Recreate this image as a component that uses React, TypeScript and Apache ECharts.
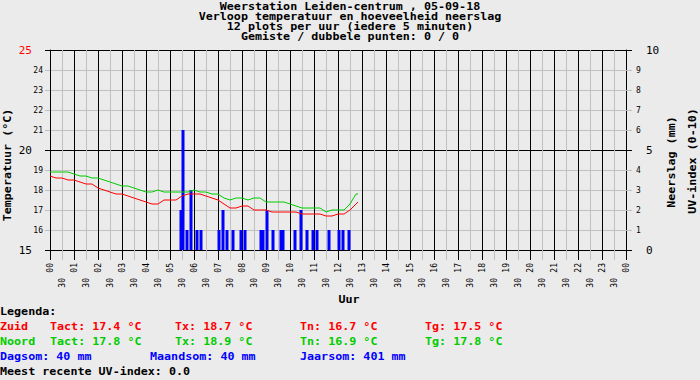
import React, { useEffect, useRef } from "react";
import * as echarts from "echarts";

const titleLines = [
  "Weerstation Leiden-centrum , 05-09-18",
  "Verloop temperatuur en hoeveelheid neerslag",
  "12 plots per uur (iedere 5 minuten)",
  "Gemiste / dubbele punten: 0 / 0",
];

const tempTimes = [
  "00:00", "00:15", "00:30", "00:45", "01:00", "01:15", "01:30", "01:45",
  "02:00", "02:15", "02:30", "02:45", "03:00", "03:15", "03:30", "03:45",
  "04:00", "04:15", "04:30", "04:45", "05:00", "05:15", "05:30", "05:45",
  "06:00", "06:15", "06:30", "06:45", "07:00", "07:15", "07:30", "07:45",
  "08:00", "08:15", "08:30", "08:45", "09:00", "09:15", "09:30", "09:45",
  "10:00", "10:15", "10:30", "10:45", "11:00", "11:15", "11:30", "11:45",
  "12:00", "12:15", "12:30", "12:45", "12:50",
];

const zuidTemps = [
  18.7, 18.6, 18.6, 18.5, 18.5, 18.4, 18.3, 18.3,
  18.1, 18.0, 17.9, 17.8, 17.8, 17.7, 17.6, 17.5,
  17.4, 17.3, 17.3, 17.5, 17.5, 17.5, 17.7, 17.8,
  17.8, 17.8, 17.7, 17.6, 17.5, 17.3, 17.1, 17.1,
  17.2, 17.2, 17.0, 17.0, 17.0, 16.9, 16.9, 16.9,
  16.9, 16.9, 16.8, 16.8, 16.8, 16.8, 16.7, 16.7,
  16.8, 16.8, 17.0, 17.3, 17.4,
];

const noordTemps = [
  18.9, 18.9, 18.9, 18.9, 18.8, 18.7, 18.7, 18.6,
  18.6, 18.5, 18.4, 18.3, 18.2, 18.2, 18.1, 18.0,
  17.9, 17.9, 18.0, 17.9, 17.9, 17.9, 17.9, 17.9,
  18.0, 17.9, 17.9, 17.8, 17.8, 17.6, 17.5, 17.6,
  17.6, 17.5, 17.6, 17.6, 17.4, 17.4, 17.4, 17.4,
  17.3, 17.2, 17.1, 17.1, 17.1, 17.1, 16.9, 17.0,
  17.0, 17.0, 17.3, 17.8, 17.8,
];

const rainTimes = [
  "05:25", "05:30", "05:40", "05:50", "06:05", "06:15",
  "07:00", "07:10", "07:20", "07:35", "07:55", "08:05",
  "08:45", "08:50", "09:00", "09:15", "09:35", "09:40",
  "10:10", "10:25", "10:40", "10:55", "11:05", "11:35",
  "12:00", "12:10", "12:25",
];
const rainValues = [
  2, 6, 1, 3, 1, 1,
  1, 2, 1, 1, 1, 1,
  1, 1, 2, 1, 1, 1,
  1, 2, 1, 1, 1, 1,
  1, 1, 1,
];

const hourLabels = [
  "00", "01", "02", "03", "04", "05", "06", "07", "08", "09", "10", "11",
  "12", "13", "14", "15", "16", "17", "18", "19", "20", "21", "22", "23", "00",
];

const legendRows = [
  { color: "#ff0000", cells: ["Zuid", "Tact: 17.4 °C", "Tx: 18.7 °C", "Tn: 16.7 °C", "Tg: 17.5 °C"] },
  { color: "#00cc00", cells: ["Noord", "Tact: 17.8 °C", "Tx: 18.9 °C", "Tn: 16.9 °C", "Tg: 17.8 °C"] },
];
const sumRow = ["Dagsom: 40 mm", "Maandsom: 40 mm", "Jaarsom: 401 mm"];
const legendTitle = "Legenda:";
const uvLine = "Meest recente UV-index: 0.0";

const MONO = "'DejaVu Sans Mono', monospace";
const RED = "#ff0000";
const GREEN = "#00cc00";
const BLUE = "#0000ff";
const GRAY = "#c0c0c0";
const BG = "#ebebeb";

const toHours = (s: string) => {
  const [h, m] = s.split(":").map(Number);
  return h + m / 60;
};

export default function App() {
  const ref = useRef<HTMLDivElement>(null);
  useEffect(() => {
    if (!ref.current) return;
    const chart = echarts.init(ref.current, null, { renderer: "svg" });

    const zuidData = tempTimes.map((t, i) => [toHours(t), zuidTemps[i]]);
    const noordData = tempTimes.map((t, i) => [toHours(t), noordTemps[i]]);
    const rainData = rainTimes.map((t, i) => [toHours(t) + 2.5 / 60, rainValues[i]]);

    const boldText = (x: number, y: number, text: string, color: string, align = "left", rotation = 0) => ({
      type: "text",
      x,
      y,
      rotation,
      scaleX: 1.17,
      scaleY: 1.05,
      silent: true,
      style: {
        text,
        fill: color,
        font: `bold 10px ${MONO}`,
        textAlign: align,
        textVerticalAlign: "middle",
      },
    });

    const graphics: any[] = [];
    titleLines.forEach((t, i) => graphics.push(boldText(350, 7 + i * 10, t, "#000", "center")));
    graphics.push(boldText(8, 165, "Temperatuur (°C)", "#000", "center", Math.PI / 2));
    graphics.push(boldText(672, 162, "Neerslag (mm)", "#000", "center", Math.PI / 2));
    graphics.push(boldText(693, 161, "UV-index (0-10)", "#000", "center", Math.PI / 2));
    graphics.push(boldText(349, 300, "Uur", "#000", "center"));
    graphics.push(boldText(0, 312, legendTitle, "#000"));
    const colX = [0, 50, 175, 300, 425];
    legendRows.forEach((row, r) => {
      row.cells.forEach((c, ci) => graphics.push(boldText(colX[ci], 327 + r * 15, c, row.color)));
    });
    sumRow.forEach((c, ci) => graphics.push(boldText(ci * 150, 357, c, BLUE)));
    graphics.push(boldText(0, 372, uvLine, "#000"));

    const smallLabel = { fontFamily: MONO, fontSize: 8, color: "#000" };

    chart.setOption({
      animation: false,
      backgroundColor: BG,
      grid: { left: 50, top: 50, width: 576, height: 200 },
      graphic: graphics,
      xAxis: [
        {
          type: "value",
          min: 0,
          max: 24,
          interval: 1,
          axisLine: { show: true, lineStyle: { color: "#000", width: 1 } },
          axisTick: { show: true, length: 10, lineStyle: { color: "#000" } },
          minorTick: { show: true, splitNumber: 2, length: 10, lineStyle: { color: GRAY } },
          splitLine: { show: true, lineStyle: { color: "#000", width: 1 } },
          minorSplitLine: { show: true, lineStyle: { color: GRAY, width: 1 } },
          axisLabel: {
            ...smallLabel,
            rotate: 90,
            margin: 13,
            formatter: (v: number) => hourLabels[Math.round(v)] ?? "",
          },
        },
        {
          type: "value",
          min: 0,
          max: 24,
          interval: 0.5,
          position: "bottom",
          axisLine: { show: false },
          axisTick: { show: false },
          splitLine: { show: false },
          axisLabel: {
            ...smallLabel,
            rotate: 90,
            margin: 28,
            formatter: (v: number) => (Math.abs((v % 1) - 0.5) < 1e-6 ? "30" : ""),
          },
        },
      ],
      yAxis: [
        {
          type: "value",
          position: "left",
          min: 15,
          max: 25,
          interval: 5,
          axisLine: { show: true, lineStyle: { color: "#000" } },
          axisTick: { show: true, length: 5, lineStyle: { color: "#000" } },
          minorTick: { show: true, splitNumber: 5, length: 5, lineStyle: { color: GRAY } },
          splitLine: { show: true, lineStyle: { color: "#000", width: 1 } },
          minorSplitLine: { show: true, lineStyle: { color: GRAY, width: 1 } },
          axisLabel: {
            fontFamily: MONO,
            fontSize: 11,
            margin: 18,
            color: (v: any) => (Number(v) === 25 ? RED : "#000"),
          },
        },
        {
          type: "value",
          position: "left",
          min: 15,
          max: 25,
          interval: 1,
          axisLine: { show: false },
          axisTick: { show: false },
          splitLine: { show: false },
          axisLabel: {
            ...smallLabel,
            margin: 7,
            formatter: (v: number) => (v % 5 === 0 ? "" : String(v)),
          },
        },
        {
          type: "value",
          position: "right",
          min: 0,
          max: 10,
          interval: 5,
          axisLine: { show: true, lineStyle: { color: "#000" } },
          axisTick: { show: true, length: 6, lineStyle: { color: "#000" } },
          minorTick: { show: true, splitNumber: 5, length: 6, lineStyle: { color: GRAY } },
          splitLine: { show: false },
          axisLabel: { fontFamily: MONO, fontSize: 11, margin: 20, color: "#000" },
        },
        {
          type: "value",
          position: "right",
          min: 0,
          max: 10,
          interval: 1,
          axisLine: { show: false },
          axisTick: { show: false },
          splitLine: { show: false },
          axisLabel: {
            ...smallLabel,
            margin: 10,
            formatter: (v: number) => (v % 5 === 0 ? "" : String(v)),
          },
        },
      ],
      series: [
        {
          type: "bar",
          name: "Neerslag",
          xAxisIndex: 0,
          yAxisIndex: 2,
          data: rainData,
          barWidth: 3,
          itemStyle: { color: BLUE },
          silent: true,
        },
        {
          type: "line",
          name: "Noord",
          xAxisIndex: 0,
          yAxisIndex: 0,
          data: noordData,
          showSymbol: false,
          lineStyle: { color: GREEN, width: 1 },
          silent: true,
        },
        {
          type: "line",
          name: "Zuid",
          xAxisIndex: 0,
          yAxisIndex: 0,
          data: zuidData,
          showSymbol: false,
          lineStyle: { color: RED, width: 1 },
          silent: true,
        },
      ],
    });
    return () => chart.dispose();
  }, []);

  return (
    <div
      ref={ref}
      style={{ position: "fixed", left: 0, top: 0, width: 700, height: 380 }}
    />
  );
}
